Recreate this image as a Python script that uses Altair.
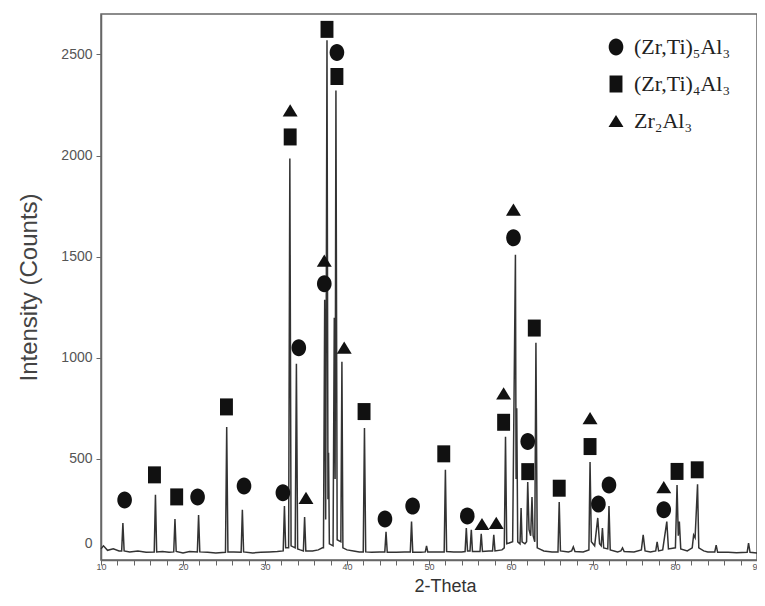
import altair as alt
import pandas as pd

# ---- diffraction trace (2-theta in degrees, counts) ----
two_theta = [
    10.0, 10.3, 10.8, 11.5, 12.2, 12.52, 12.67, 12.82, 13.5, 14.5, 15.5, 16.49, 16.64, 16.79,
    17.5, 18.3, 18.87, 19.02, 19.17, 20.0, 20.8, 21.75, 21.9, 22.05, 23.0, 24.0, 25.18, 25.33,
    25.48, 26.2, 27.09, 27.24, 27.39, 28.5, 29.5, 30.5, 31.5, 32.22, 32.37, 32.52, 32.88, 33.03,
    33.18, 33.68, 33.83, 33.98, 34.3, 34.68, 34.83, 34.98, 35.8, 36.5, 37.0, 37.13, 37.28, 37.4,
    37.56, 37.68, 37.75, 37.85, 38.3, 38.45, 38.55, 38.65, 38.8, 39.25, 39.38, 39.5, 40.0, 40.8,
    41.5, 41.98, 42.13, 42.28, 43.0, 44.0, 44.61, 44.76, 44.91, 46.0, 47.0, 47.72, 47.87, 48.02,
    49.0, 49.55, 49.7, 49.85, 51.0, 51.85, 52.0, 52.15, 53.0, 54.0, 54.4, 54.55, 54.7, 55.0,
    55.16, 55.3, 56.22, 56.37, 56.52, 57.3, 57.75, 57.9, 58.05, 58.9, 59.18, 59.33, 59.48, 60.2,
    60.54, 60.62, 60.7, 60.82, 61.1, 61.23, 61.35, 61.7, 61.9, 62.04, 62.2, 62.4, 62.56, 62.7,
    62.9, 63.04, 63.2, 64.0, 65.0, 65.73, 65.88, 66.03, 67.0, 67.4, 67.6, 67.8, 68.8, 69.5,
    69.64, 69.8, 70.2, 70.58, 70.8, 71.0, 71.15, 71.3, 71.8, 71.95, 72.1, 73.0, 73.4, 73.6,
    73.8, 75.0, 75.9, 76.12, 76.35, 77.0, 77.65, 77.82, 78.0, 78.5, 79.0, 79.2, 80.05, 80.25,
    80.4, 80.53, 80.7, 81.5, 82.1, 82.27, 82.45, 82.75, 82.9, 83.5, 84.0, 84.85, 85.02, 85.2,
    86.5, 87.5, 88.8, 88.97, 89.15, 90.0,
]
intensity = [
    55, 70, 48, 55, 45, 45, 183, 45, 40, 45, 38, 40, 322, 40,
    42, 38, 40, 203, 42, 35, 42, 40, 223, 40, 38, 35, 38, 658,
    40, 40, 38, 248, 40, 35, 38, 40, 42, 45, 267, 60, 60, 1985,
    70, 60, 970, 55, 50, 45, 213, 45, 45, 50, 60, 60, 1287, 200,
    2570, 300, 530, 80, 70, 1198, 400, 2322, 100, 90, 980, 60, 50, 45,
    40, 40, 653, 40, 38, 40, 40, 139, 38, 38, 40, 40, 190, 38,
    38, 40, 70, 40, 40, 40, 446, 42, 40, 40, 42, 158, 45, 45,
    149, 42, 42, 129, 42, 45, 45, 124, 45, 50, 60, 609, 80, 90,
    1510, 400, 750, 90, 80, 257, 90, 80, 90, 386, 150, 120, 312, 120,
    90, 1074, 60, 45, 40, 40, 287, 45, 40, 45, 65, 42, 40, 50,
    485, 90, 70, 208, 80, 70, 158, 60, 55, 267, 50, 40, 45, 60,
    42, 40, 50, 124, 45, 40, 45, 90, 45, 50, 190, 55, 60, 371,
    120, 190, 55, 45, 60, 124, 110, 374, 60, 45, 40, 40, 74, 38,
    38, 36, 38, 84, 38, 35,
]

# ---- phase markers (position of each symbol) ----
marker_theta = [
    12.88, 16.52, 19.23, 21.78, 25.3, 27.44, 32.18, 33.07, 33.07, 34.12, 35.0,
    37.23, 37.23, 37.56, 38.77, 38.77, 39.66, 42.08, 44.63, 48.0, 51.8, 54.67,
    56.46, 58.2, 59.1, 59.1, 60.3, 60.3, 62.04, 62.04, 62.84, 65.88, 69.64, 69.64,
    70.66, 71.95, 78.63, 78.63, 80.25, 82.71,
]
marker_counts = [
    297, 421, 312, 312, 757, 366, 333, 2092, 2224, 1050, 307,
    1366, 1480, 2624, 2391, 2510, 1050, 734, 203, 267, 525, 218,
    178, 183, 681, 824, 1593, 1733, 586, 437, 1147, 355, 561, 701,
    277, 371, 248, 360, 438, 446,
]
P5, P4, P2 = "(Zr,Ti)₅Al₃", "(Zr,Ti)₄Al₃", "Zr₂Al₃"
marker_phase = [
    P5, P4, P4, P5, P4, P5, P5, P4, P2, P5, P2,
    P5, P2, P4, P4, P5, P2, P4, P5, P5, P4, P5,
    P2, P2, P4, P2, P5, P2, P5, P4, P4, P4, P4, P2,
    P5, P5, P5, P2, P4, P4,
]

phases = [P5, P4, P2]
phase_shapes = [
    "M0.86,0A0.86,1 0 1,1 -0.86,0A0.86,1 0 1,1 0.86,0Z",
    "M-0.76,-1H0.76V1H-0.76Z",
    "M0,-0.72L0.88,0.72H-0.88Z",
]

x_tick_values = [10, 12, 14, 16, 18, 20, 22, 24, 26, 28, 30, 32, 34, 36, 38, 40, 42, 44,
                 46, 48, 50, 52, 54, 56, 58, 60, 62, 64, 66, 68, 70, 72, 74, 76, 78, 80,
                 82, 84, 86, 88, 90]
y_tick_values = [0, 500, 1000, 1500, 2000, 2500]

trace_df = pd.DataFrame({"theta": two_theta, "counts": intensity})
marker_df = pd.DataFrame({"theta": marker_theta, "counts": marker_counts, "phase": marker_phase})

sans = "Liberation Sans, Arial, sans-serif"
serif = "Liberation Serif, Times New Roman, serif"

x_scale = alt.Scale(domain=[10, 90], nice=False, zero=False)
y_scale = alt.Scale(domain=[0, 2700], nice=False)

x_axis = alt.Axis(
    title="2-Theta", values=x_tick_values,
    labelExpr="(datum.value % 10 === 0) ? format(datum.value, 'd') : ''",
    labelOverlap=False, labelFlush=False, labelBound=False,
    labelFont=sans, labelFontSize=9,
    labelColor="#555", labelPadding=-3, tickSize=5, tickColor="#666",
    domainColor="#666", domainWidth=1.5, grid=False,
    titleFont=sans, titleFontSize=18, titleFontWeight="normal", titleColor="#333",
    titleX=344, titleY=31, titleBaseline="alphabetic",
)
y_axis = alt.Axis(
    title="Intensity (Counts)", values=y_tick_values, format="d",
    labelFont=sans, labelFontSize=14, labelColor="#555", labelPadding=4,
    labelOffset={"condition": {"test": "datum.value === 0", "value": -17}, "value": 0},
    tickOpacity={"condition": {"test": "datum.value === 0", "value": 0}, "value": 1},
    tickSize=5, tickColor="#666", domainColor="#666", domainWidth=1.5, grid=False,
    titleFont=sans, titleFontSize=24, titleFontWeight="normal", titleColor="#444",
    titleX=-72, titleBaseline="middle",
)

trace = alt.Chart(trace_df).mark_line(color="#333", strokeWidth=1.5).encode(
    x=alt.X("theta:Q", scale=x_scale, axis=x_axis),
    y=alt.Y("counts:Q", scale=y_scale, axis=y_axis),
)

markers = alt.Chart(marker_df).mark_point(filled=True, color="#111", opacity=1, size=289).encode(
    x=alt.X("theta:Q", scale=x_scale, axis=x_axis),
    y=alt.Y("counts:Q", scale=y_scale, axis=y_axis),
    shape=alt.Shape(
        "phase:N",
        scale=alt.Scale(domain=phases, range=phase_shapes),
        legend=alt.Legend(
            title=None, orient="none", legendX=504, legendY=22,
            symbolSize=289, symbolFillColor="#111", symbolStrokeWidth=0,
            labelFont=serif, labelFontSize=22, labelColor="#222",
            labelOffset=7, rowPadding=15,
        ),
    ),
)

chart = alt.layer(trace, markers).properties(
    width=656, height=546,
    autosize=alt.AutoSizeParams(type="none"),
    padding={"left": 93, "top": 6, "right": 0, "bottom": 38},
    background="white",
).configure_view(stroke="#666", strokeWidth=1.5)

chart.save("out.html", embed_options={"renderer": "svg", "actions": False})
